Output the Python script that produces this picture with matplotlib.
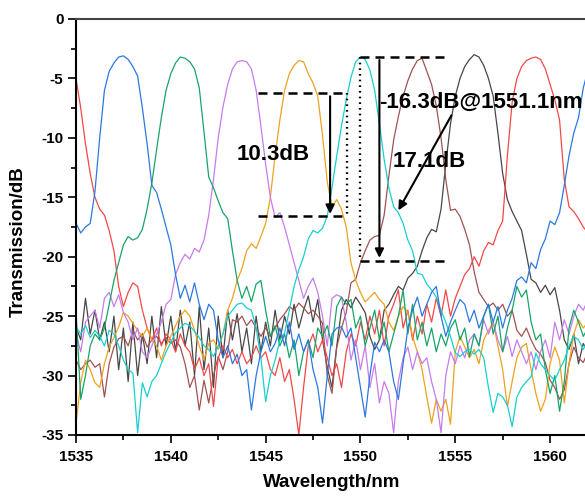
import numpy as np
import matplotlib
matplotlib.use("Agg")
import matplotlib.pyplot as plt
from matplotlib.ticker import MultipleLocator

# common wavelength grid of the measured spectra (nm)
wavelength = np.arange(1535.0, 1562.001, 0.25)

# transmission (dB) of the eight channels
blue = [-17.2, -18.0, -17.5, -17.2, -14.5, -10.0, -6.0, -4.4,
        -3.7, -3.2, -3.1, -3.4, -4.0, -4.8, -7.5, -10.5,
        -14.0, -14.6, -16.0, -17.5, -19.0, -21.5, -23.5, -22.4,
        -23.8, -22.2, -24.0, -25.3, -24.0, -24.5, -27.0, -28.5,
        -27.5, -29.0, -28.2, -30.0, -29.5, -32.9, -30.0, -28.0,
        -26.7, -28.0, -27.3, -26.0, -27.5, -25.5, -27.8, -26.5,
        -28.0, -27.0, -29.5, -31.0, -34.0, -30.0, -26.5, -26.0,
        -25.9, -26.8, -26.0, -28.5, -31.0, -33.5, -30.0, -27.2,
        -28.0, -27.0, -28.0, -30.5, -32.0, -29.0, -26.0, -24.5,
        -23.4, -25.0, -24.0, -23.0, -22.5, -25.0, -26.7, -25.5,
        -24.5, -23.6, -24.0, -25.5, -24.5, -26.0, -25.0, -24.0,
        -25.5, -24.2, -26.0, -24.5, -23.5, -22.0, -21.7, -22.2,
        -20.5, -21.0, -19.4, -18.5, -17.0, -17.3, -16.3, -14.0,
        -11.5, -9.6, -8.3, -5.8, -4.3]

green = [-24.5, -32.0, -30.0, -27.5, -26.5, -27.0, -26.0, -24.0,
         -22.0, -20.5, -19.0, -18.3, -18.6, -18.4, -17.7, -16.0,
         -13.8, -11.0, -8.3, -6.0, -4.6, -3.7, -3.2, -3.3,
         -3.6, -4.2, -5.8, -9.5, -13.3, -14.2, -15.3, -16.3,
         -16.8, -19.5, -22.0, -23.5, -22.5, -23.8, -22.3, -22.0,
         -24.5, -26.7, -25.8, -27.5, -26.5, -28.5, -27.0, -30.0,
         -28.0, -27.0, -28.5, -26.0, -26.7, -25.8, -27.5, -24.2,
         -23.4, -24.0, -23.6, -26.0, -25.0, -27.5, -26.0, -24.5,
         -27.0, -25.5, -28.0, -26.5, -25.0, -22.8, -26.5, -24.0,
         -27.0, -25.5, -27.5, -26.0, -28.0, -26.5, -27.5, -26.0,
         -25.3, -27.0, -26.0, -28.4, -26.5, -27.5, -25.0, -24.0,
         -26.5, -25.0, -28.0, -26.0, -24.5, -22.5, -23.4, -22.8,
         -25.5, -27.0, -26.5, -29.5, -31.5, -30.0, -33.0, -30.5,
         -26.0, -24.5, -25.5, -26.7, -26.0]

violet = [-26.5, -28.0, -25.5, -25.0, -24.5, -26.0, -23.5, -23.0,
          -24.2, -23.2, -24.7, -25.5, -27.0, -26.0, -28.0, -28.5,
          -27.5, -26.5, -25.5, -24.0, -23.6, -21.5, -20.5, -19.8,
          -20.2, -19.3, -19.6, -18.6, -16.5, -13.5, -10.0, -7.4,
          -5.5, -4.2, -3.6, -3.5, -3.6, -4.2, -6.0, -9.0,
          -12.2, -15.0, -16.7, -16.3, -17.5, -19.0, -20.5, -22.0,
          -23.5, -22.5, -21.8, -23.0, -25.0, -27.5, -23.5, -23.2,
          -23.4, -25.5, -28.7, -27.0, -29.5, -27.5, -31.0, -29.0,
          -32.3, -30.5, -31.5, -34.8, -30.5, -28.5, -27.6, -29.5,
          -28.0, -29.0, -28.5, -30.5, -32.0, -34.8, -30.0, -28.0,
          -29.0, -27.5, -28.5, -27.0, -26.5, -27.5, -25.3, -26.5,
          -25.5, -27.0, -28.0, -26.7, -28.4, -27.0, -28.0, -29.0,
          -28.0, -29.5, -28.0, -27.0, -28.5, -25.5, -27.0, -25.3,
          -26.5, -25.0, -24.0, -24.5, -23.6]

orange = [-34.0, -30.6, -28.7, -29.5, -30.6, -31.0, -29.0, -27.6,
          -26.8, -25.9, -24.7, -25.0, -25.6, -26.2, -26.7, -26.0,
          -27.0, -27.5, -28.7, -27.5, -26.7, -25.8, -25.0, -24.5,
          -25.0, -26.2, -27.5, -28.7, -27.3, -27.0, -27.8, -26.5,
          -24.5, -23.5, -22.0, -21.0, -19.5, -18.9, -19.3, -18.3,
          -17.2, -15.0, -11.5, -8.5, -6.0, -4.6, -3.9, -3.5,
          -3.6, -4.6, -5.4, -6.5, -9.8, -13.7, -15.8, -15.2,
          -16.0, -17.5, -20.5, -22.0, -23.0, -23.8, -23.4, -23.0,
          -23.6, -24.0, -25.5, -26.2, -25.0, -24.2, -24.7, -26.7,
          -28.0, -29.5, -31.8, -34.0, -32.0, -33.0, -32.0, -34.1,
          -28.0, -26.7, -27.6, -28.5, -27.8, -29.0, -27.0, -26.2,
          -25.5, -27.5, -29.5, -32.6, -30.5, -28.5, -27.6, -27.3,
          -29.5, -31.5, -33.0, -32.0, -29.0, -27.6, -28.7, -32.3,
          -29.0, -26.5, -25.3, -26.0, -25.5]

cyan = [-25.9, -26.5, -25.8, -26.8, -26.2, -26.7, -27.5, -26.2,
        -26.5, -27.5, -28.7, -29.5, -29.8, -34.8, -30.6, -31.8,
        -30.5, -30.0, -29.0, -28.0, -27.2, -26.4, -26.0, -25.6,
        -25.8, -26.3, -26.8, -27.5, -27.8, -28.4, -27.5, -26.5,
        -25.0, -24.5, -24.0, -23.9, -24.3, -24.5, -26.0, -28.5,
        -32.2, -30.0, -28.7, -27.0, -26.4, -24.5, -22.5, -21.1,
        -20.0, -18.5, -17.8, -18.0, -17.6, -16.6, -14.2, -11.5,
        -9.0, -6.8, -4.9, -3.6, -3.2, -3.4, -4.3, -6.0,
        -8.8, -11.8, -14.2, -15.8, -16.3, -17.2, -18.6, -19.5,
        -21.4, -21.5, -22.3, -22.8, -23.4, -24.5, -25.5, -26.7,
        -28.1, -28.4, -28.0, -27.8, -28.2, -27.8, -28.5, -31.0,
        -33.1, -31.5, -31.8, -32.5, -34.3, -31.8, -31.0, -30.5,
        -30.1, -28.1, -29.0, -29.5, -30.0, -30.4, -29.5, -28.7,
        -27.5, -26.7, -27.0, -27.8, -27.0]

brown = [-28.7, -29.5, -29.0, -28.7, -29.3, -29.0, -31.8, -29.0,
         -27.6, -26.9, -26.7, -27.5, -26.2, -27.0, -26.5, -27.6,
         -27.0, -26.7, -27.3, -26.8, -27.3, -27.0, -27.6, -29.0,
         -31.0, -30.0, -32.9, -30.4, -32.3, -30.0, -28.4, -29.5,
         -28.0, -25.3, -25.5, -25.0, -25.8, -25.3, -26.0, -26.7,
         -26.0, -26.7, -26.0, -25.3, -24.8, -24.2, -24.5, -23.9,
         -24.3, -24.8, -24.5, -25.0, -25.6, -30.0, -31.5, -27.6,
         -26.0, -24.7, -22.2, -21.9, -20.5, -19.5, -18.6, -18.3,
         -18.2, -16.5, -13.2, -10.2, -8.2, -6.5, -5.2, -4.2,
         -3.5, -3.3, -4.4, -5.5, -7.3, -10.0, -13.5, -16.1,
         -16.0, -16.6, -17.7, -19.0, -21.3, -23.0, -23.6, -24.2,
         -23.9, -24.5, -24.0, -25.0, -24.5, -26.2, -26.7, -26.0,
         -27.0, -27.8, -28.2, -28.9, -30.4, -31.0, -32.0, -31.2,
         -29.0, -27.6, -28.5, -28.9, -28.0]

gray = [-25.9, -27.0, -23.5, -26.5, -24.5, -27.0, -25.5, -28.0,
        -25.0, -29.5, -26.0, -30.5, -25.5, -30.0, -26.5, -29.0,
        -25.0, -28.5, -24.2, -27.5, -25.0, -28.0, -24.5, -27.5,
        -25.5, -30.0, -24.2, -29.5, -26.0, -31.0, -25.0, -28.5,
        -24.5, -27.0, -24.8, -28.0, -26.0, -29.0, -25.0, -28.0,
        -25.5, -27.5, -24.5, -27.0, -25.0, -26.5, -24.0, -26.0,
        -24.5, -23.3, -25.5, -23.6, -27.0, -29.3, -31.0, -27.5,
        -24.5, -23.6, -24.3, -23.4, -24.0, -24.7, -26.7, -27.8,
        -27.0, -24.5, -24.0, -23.2, -22.5, -22.8, -21.8, -21.4,
        -20.8, -19.5, -18.4, -17.7, -17.9, -16.0, -12.2, -8.8,
        -6.5, -5.0, -4.0, -3.4, -3.0, -3.2, -3.9, -5.0,
        -6.5, -9.6, -13.0, -15.2, -16.2, -17.0, -17.8, -19.8,
        -21.9, -22.2, -23.0, -22.4, -23.2, -22.6, -24.5, -27.0,
        -27.8, -26.5, -29.0, -27.3, -28.0]

red = [-5.0, -7.5, -10.5, -13.0, -15.0, -16.0, -16.5, -17.8,
       -19.5, -22.5, -24.2, -23.0, -22.2, -22.5, -24.5, -26.0,
       -27.0, -26.0, -27.5, -26.5, -27.0, -28.0, -26.5, -27.5,
       -28.0, -29.5, -28.5, -30.0, -29.0, -32.6, -28.5, -27.5,
       -28.5, -27.8, -29.0, -28.0, -29.0, -28.5, -27.5, -28.5,
       -28.0, -29.5, -30.0, -28.5, -30.5, -29.5, -32.0, -35.0,
       -31.0, -27.5, -26.5, -28.0, -27.0, -28.5, -30.0, -29.0,
       -31.0, -28.0, -26.5, -27.5, -25.5, -27.0, -25.0, -26.5,
       -24.5, -27.5, -25.0, -24.0, -22.8, -26.0, -24.5, -27.0,
       -25.0, -26.5, -24.0, -25.5, -23.5, -25.0, -22.8, -25.0,
       -23.5, -22.5, -21.5, -21.0, -20.0, -20.8, -19.5, -18.8,
       -19.0, -17.8, -17.0, -11.5, -7.0, -5.0, -4.0, -3.5,
       -3.3, -3.2, -3.4, -4.2, -5.5, -6.8, -8.5, -13.5,
       -15.8, -16.2, -16.8, -17.5, -18.0]

channels = [
    (gray, "#474747"),
    (brown, "#a05252"),
    (red, "#f44848"),
    (orange, "#eea21e"),
    (violet, "#c67cec"),
    (green, "#17a466"),
    (cyan, "#17d0d0"),
    (blue, "#2b78e0"),
]

plt.rcParams["font.family"] = ["Liberation Sans", "DejaVu Sans"]
plt.rcParams["font.weight"] = "bold"
plt.rcParams["axes.unicode_minus"] = False

fig = plt.figure(figsize=(5.85, 4.97), dpi=100)
ax = fig.add_axes([76 / 585, 1 - 435 / 497, 512 / 585, 416 / 497])

for values, color in channels:
    ax.plot(wavelength, values, color=color, lw=0.9)

ax.set_xlim(1535, 1562)
ax.set_ylim(-35, 0)
ax.xaxis.set_major_locator(MultipleLocator(5))
ax.xaxis.set_minor_locator(MultipleLocator(2.5))
ax.yaxis.set_major_locator(MultipleLocator(5))
ax.yaxis.set_minor_locator(MultipleLocator(2.5))
ax.tick_params(which="major", direction="out", length=6, width=1.2,
               labelsize=11, pad=3)
ax.tick_params(axis="x", which="major", pad=5)
ax.tick_params(which="minor", direction="out", length=3.5, width=1.2)
ax.tick_params(top=False, right=False)
for side in ("left", "bottom"):
    ax.spines[side].set_linewidth(1.5)
ax.spines["top"].set_linewidth(1.5)
ax.spines["top"].set_color("#444444")
ax.spines["right"].set_visible(False)

ax.set_xlabel("Wavelength/nm", fontsize=13.5, fontweight="bold", labelpad=7)
ax.set_ylabel("Transmission/dB", fontsize=13.5, fontweight="bold")
ax.yaxis.set_label_coords(-0.096, 0.464)

# annotation guides
dash = dict(color="black", lw=1.8, ls=(0, (3.6, 2.4)))
dot = dict(color="black", lw=1.7, ls=(0, (0.7, 1.7)))
ax.plot([1544.6, 1549.3], [-6.2, -6.2], **dash)
ax.plot([1544.6, 1549.3], [-16.6, -16.6], **dash)
ax.plot([1549.3, 1549.3], [-6.2, -16.6], **dot)
ax.plot([1550.0, 1554.6], [-3.2, -3.2], **dash)
ax.plot([1550.0, 1554.6], [-20.35, -20.35], **dash)
ax.plot([1550.0, 1550.0], [-3.2, -20.35], **dot)

arrow = dict(arrowstyle="-|>", color="black", lw=1.5, mutation_scale=13,
             shrinkA=0, shrinkB=0)
ax.annotate("", xy=(1548.4, -16.4), xytext=(1548.4, -6.5), arrowprops=arrow)
ax.annotate("", xy=(1551.0, -20.1), xytext=(1551.0, -3.45), arrowprops=arrow)
ax.annotate("", xy=(1552.0, -16.1), xytext=(1554.8, -8.1), arrowprops=arrow)

ax.text(1543.45, -11.85, "10.3dB", fontsize=16, fontweight="bold",
        va="baseline", ha="left")
ax.text(1551.0, -7.5, "-16.3dB@1551.1nm", fontsize=16, fontweight="bold",
        va="baseline", ha="left")
ax.text(1551.7, -12.45, "17.1dB", fontsize=16, fontweight="bold",
        va="baseline", ha="left")

fig.savefig("out.png", dpi=100, facecolor="white")
